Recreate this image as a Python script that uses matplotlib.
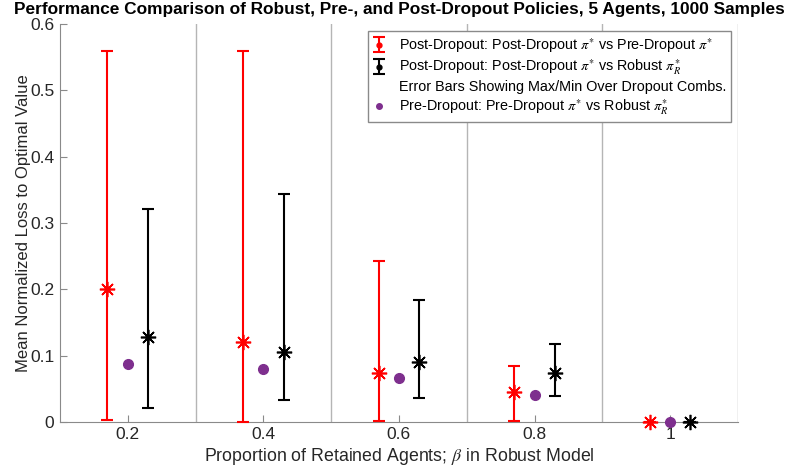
import matplotlib
matplotlib.use('Agg')
import matplotlib.pyplot as plt
from matplotlib.lines import Line2D

plt.rcParams['font.family'] = ['Liberation Sans', 'DejaVu Sans']
plt.rcParams['mathtext.fontset'] = 'stix'

# datos
beta = [0.2, 0.4, 0.6, 0.8, 1.0]
xticklabels = ['0.2', '0.4', '0.6', '0.8', '1']

post_pre_mean = [0.200, 0.120, 0.074, 0.045, 0.0]
post_pre_max = [0.560, 0.560, 0.243, 0.085, 0.0]
post_pre_min = [0.003, 0.000, 0.002, 0.001, 0.0]

post_rob_mean = [0.128, 0.106, 0.090, 0.074, 0.0]
post_rob_max = [0.321, 0.344, 0.184, 0.118, 0.0]
post_rob_min = [0.022, 0.034, 0.037, 0.039, 0.0]

pre_rob_mean = [0.087, 0.080, 0.066, 0.041, 0.0]

shift = 0.03
purple = '#7E2F8E'
asterisk = (8, 2, 0)

#--------------------------------------

fig = plt.figure(figsize=(7.88, 4.69), dpi=100)
ax = fig.add_axes([0.076, 0.100, 0.8605, 0.8488])

x_red = [b - shift for b in beta]
x_blk = [b + shift for b in beta]

err_red = [[m - lo for m, lo in zip(post_pre_mean, post_pre_min)],
           [hi - m for m, hi in zip(post_pre_mean, post_pre_max)]]
err_blk = [[m - lo for m, lo in zip(post_rob_mean, post_rob_min)],
           [hi - m for m, hi in zip(post_rob_mean, post_rob_max)]]

h1 = ax.errorbar(x_red, post_pre_mean, yerr=err_red, fmt='.', color='red',
                 ecolor='red', elinewidth=1.5, capsize=4, capthick=1.5,
                 markersize=7, clip_on=False, zorder=3)
h2 = ax.errorbar(x_blk, post_rob_mean, yerr=err_blk, fmt='.', color='black',
                 ecolor='black', elinewidth=1.5, capsize=4, capthick=1.5,
                 markersize=7, clip_on=False, zorder=3)
for c in (h1, h2):
    for art in c.get_children():
        art.set_clip_on(False)

ax.plot(x_red, post_pre_mean, linestyle='none', marker=asterisk, color='red',
        markersize=11, markeredgewidth=1.2, clip_on=False, zorder=4)
ax.plot(x_blk, post_rob_mean, linestyle='none', marker=asterisk, color='black',
        markersize=11, markeredgewidth=1.2, clip_on=False, zorder=4)
ax.plot(beta, pre_rob_mean, linestyle='none', marker='o', color=purple,
        markersize=7, clip_on=False, zorder=4)

h3 = Line2D([], [], linestyle='none', marker='none')
h4 = Line2D([], [], linestyle='none', marker='o', color=purple, markersize=4)

ax.set_xlim(0.1, 1.1)
ax.set_ylim(0, 0.6)
ax.set_xticks(beta)
ax.set_xticklabels(xticklabels)
ax.set_yticks([0, 0.1, 0.2, 0.3, 0.4, 0.5, 0.6])
ax.set_yticklabels(['0', '0.1', '0.2', '0.3', '0.4', '0.5', '0.6'])

for g in [0.3, 0.5, 0.7, 0.9, 1.1]:
    ax.axvline(g, color='#b5b5b5', linewidth=1, zorder=1)

for s in ['top', 'right']:
    ax.spines[s].set_visible(False)
for s in ['left', 'bottom']:
    ax.spines[s].set_color('#8a8a8a')
ax.tick_params(direction='in', length=5, color='#8a8a8a', labelsize=12.5,
               labelcolor='#262626')
ax.tick_params(axis='y', pad=4)

ax.set_xlabel(r'Proportion of Retained Agents; $\beta$ in Robust Model',
              fontsize=12.8, color='#262626', labelpad=3)
ax.set_ylabel('Mean Normalized Loss to Optimal Value', fontsize=12,
              color='#262626', labelpad=-1)
ax.set_title('Performance Comparison of Robust, Pre-, and Post-Dropout Policies, 5 Agents, 1000 Samples',
             fontsize=12.4, fontweight='bold', pad=7)

leg = ax.legend([h1, h2, h3, h4],
                [r'Post-Dropout: Post-Dropout $\pi^{*}$ vs Pre-Dropout $\pi^{*}$',
                 r'Post-Dropout: Post-Dropout $\pi^{*}$ vs Robust $\pi_{R}^{*}$',
                 'Error Bars Showing Max/Min Over Dropout Combs.',
                 r'Pre-Dropout: Pre-Dropout $\pi^{*}$ vs Robust $\pi_{R}^{*}$'],
                loc='upper right', bbox_to_anchor=(0.99, 0.983), fontsize=10.4,
                fancybox=False, framealpha=1, edgecolor='#8a8a8a',
                handlelength=0.8, handletextpad=1.0, labelspacing=0.22,
                borderpad=0.35, borderaxespad=0)
leg.get_frame().set_linewidth(1)

fig.savefig('out.png', dpi=100)
